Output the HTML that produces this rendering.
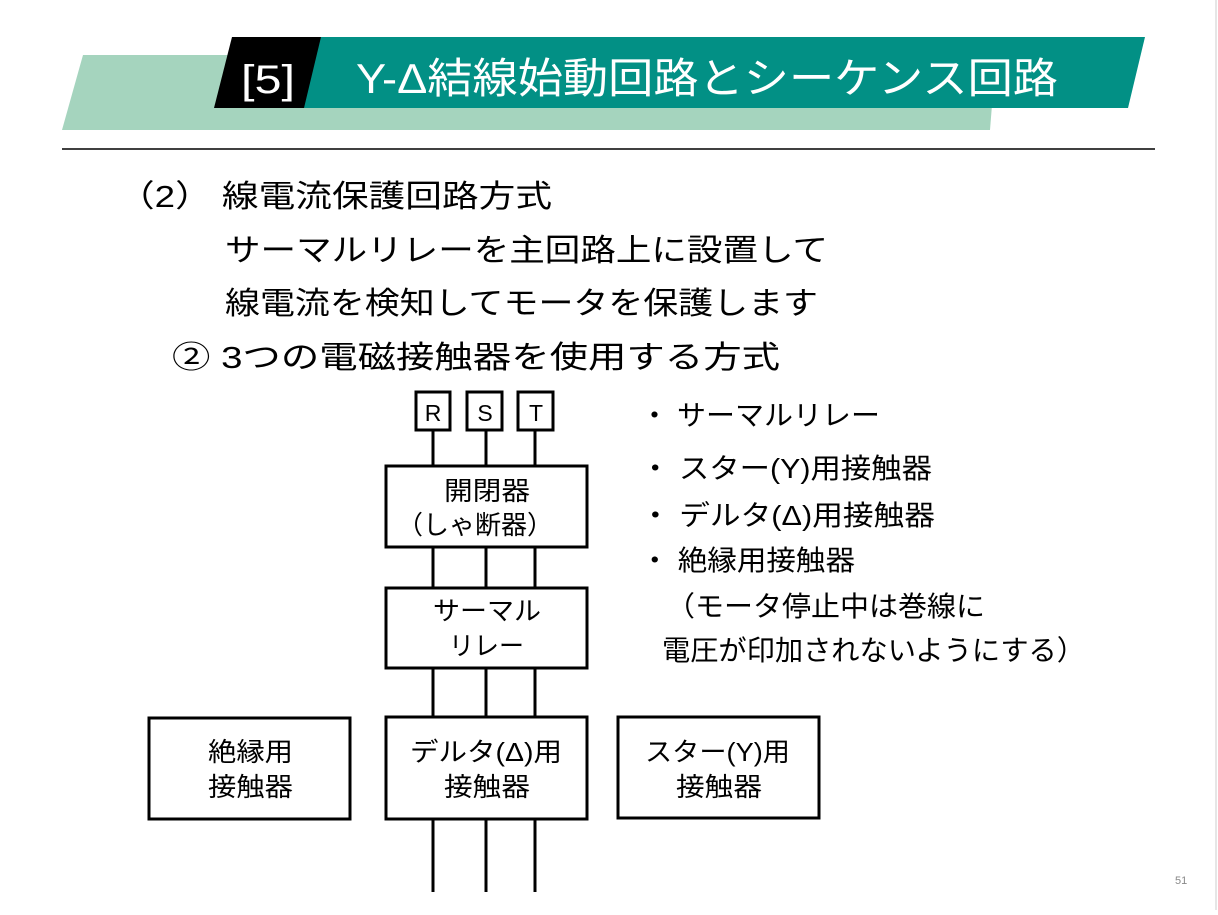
<!DOCTYPE html>
<html><head><meta charset="utf-8"><style>
body{margin:0;background:#fff;}
svg text{font-family:"Liberation Sans","Noto Sans CJK JP",sans-serif;}
</style></head><body>
<svg width="1218" height="910" viewBox="0 0 1218 910" xmlns="http://www.w3.org/2000/svg">
<rect x="0" y="0" width="1218" height="910" fill="#fff"/>
<line x1="1216" y1="0" x2="1216" y2="910" stroke="#ccc" stroke-width="1"/>
<polygon points="83,55 996,55 990,130 62,130" fill="#a5d4be"/>
<polygon points="312,37 1145,37 1128,108 295,108" fill="#029085"/>
<polygon points="232,37 321,37 304,108 214,108" fill="#000"/>
<text x="241" y="93" font-size="40" fill="#fff" textLength="54" lengthAdjust="spacingAndGlyphs">[5]</text>
<text x="356" y="93" font-size="42" fill="#fff" textLength="702" lengthAdjust="spacingAndGlyphs">Y-Δ結線始動回路とシーケンス回路</text>
<line x1="62" y1="149" x2="1155" y2="149" stroke="#000" stroke-width="1.5"/>
<g font-size="31" fill="#000" lengthAdjust="spacingAndGlyphs">
<text x="118" y="207" textLength="434" lengthAdjust="spacingAndGlyphs">（2） 線電流保護回路方式</text>
<text x="225" y="261" textLength="603" lengthAdjust="spacingAndGlyphs">サーマルリレーを主回路上に設置して</text>
<text x="225" y="314" textLength="593" lengthAdjust="spacingAndGlyphs">線電流を検知してモータを保護します</text>
<text x="172" y="368" textLength="608" lengthAdjust="spacingAndGlyphs">② 3つの電磁接触器を使用する方式</text>
</g>
<g font-size="28" fill="#000">
<text x="640" y="425" textLength="240" lengthAdjust="spacingAndGlyphs">・ サーマルリレー</text>
<text x="640" y="478" textLength="292" lengthAdjust="spacingAndGlyphs">・ スター(Y)用接触器</text>
<text x="640" y="525" textLength="295" lengthAdjust="spacingAndGlyphs">・ デルタ(Δ)用接触器</text>
<text x="640" y="570" textLength="215" lengthAdjust="spacingAndGlyphs">・ 絶縁用接触器</text>
<text x="666" y="616" textLength="319" lengthAdjust="spacingAndGlyphs">（モータ停止中は巻線に</text>
<text x="662" y="660" textLength="423" lengthAdjust="spacingAndGlyphs">電圧が印加されないようにする）</text>
</g>
<g stroke="#000" stroke-width="3" fill="#fff">
<line x1="433" y1="430" x2="433" y2="892"/>
<line x1="486" y1="430" x2="486" y2="892"/>
<line x1="535" y1="430" x2="535" y2="892"/>
<rect x="416" y="392" width="34" height="38"/>
<rect x="467" y="392" width="35" height="38"/>
<rect x="518" y="392" width="35" height="38"/>
<rect x="386" y="466" width="201" height="81"/>
<rect x="386" y="588" width="201" height="80"/>
<rect x="386" y="717" width="201" height="102"/>
<rect x="149" y="718" width="201" height="101"/>
<rect x="618" y="717" width="201" height="101"/>
</g>
<g font-size="23" fill="#000" text-anchor="middle">
<text x="433" y="421">R</text>
<text x="485" y="421">S</text>
<text x="536" y="421">T</text>
</g>
<g font-size="26" fill="#000">
<text x="444" y="500" textLength="86" lengthAdjust="spacingAndGlyphs">開閉器</text>
<text x="397" y="534" textLength="156" lengthAdjust="spacingAndGlyphs">（しゃ断器）</text>
<text x="433" y="620" textLength="108" lengthAdjust="spacingAndGlyphs">サーマル</text>
<text x="449" y="655" textLength="75" lengthAdjust="spacingAndGlyphs">リレー</text>
<text x="410" y="761" textLength="152" lengthAdjust="spacingAndGlyphs">デルタ(Δ)用</text>
<text x="444" y="796" textLength="86" lengthAdjust="spacingAndGlyphs">接触器</text>
<text x="208" y="761" textLength="85" lengthAdjust="spacingAndGlyphs">絶縁用</text>
<text x="208" y="796" textLength="85" lengthAdjust="spacingAndGlyphs">接触器</text>
<text x="645" y="761" textLength="145" lengthAdjust="spacingAndGlyphs">スター(Y)用</text>
<text x="676" y="796" textLength="86" lengthAdjust="spacingAndGlyphs">接触器</text>
</g>
<text x="1175" y="884" font-size="11" fill="#888">51</text>
</svg>
</body></html>
